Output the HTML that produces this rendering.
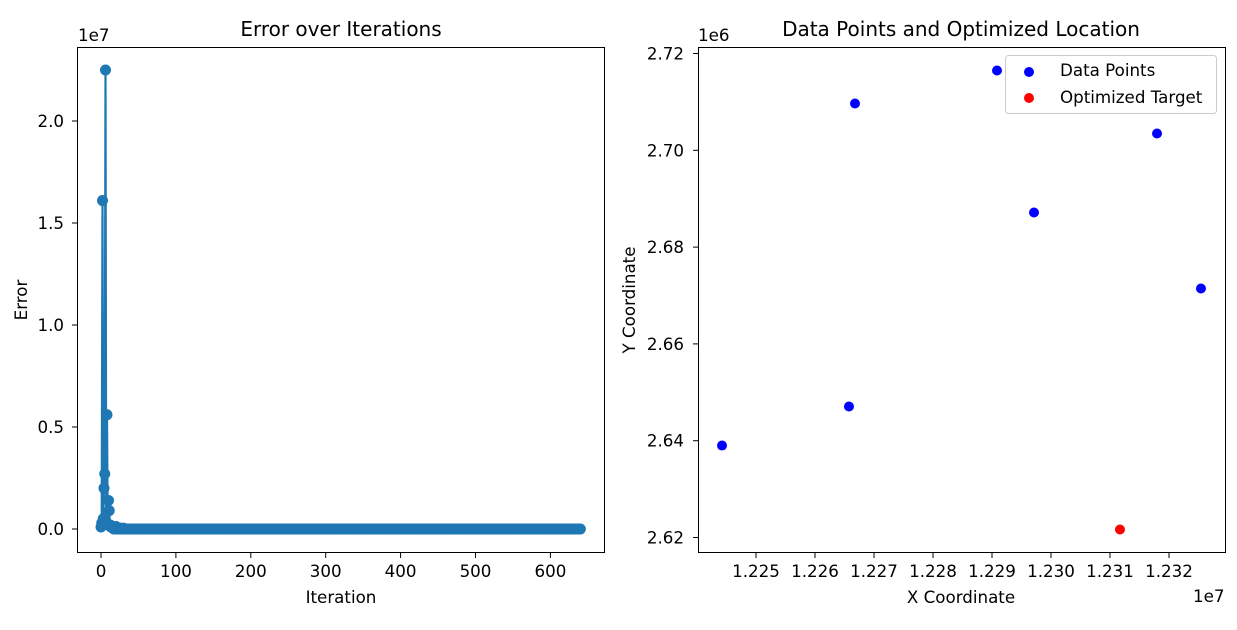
<!DOCTYPE html>
<html><head><meta charset="utf-8"><style>
body{margin:0;background:#fff;}
svg text{font-family:"DejaVu Sans","Liberation Sans",sans-serif;fill:#000;}
</style></head><body>
<svg id="chart" width="1237" height="625" viewBox="0 0 1237 625" xmlns="http://www.w3.org/2000/svg">
<rect width="1237" height="625" fill="#fff"/>
<g id="left"></g><g id="right"></g>
</svg>
<script>
// Left chart data (units of 1e7)
const errIterStart = [0,1,2,3,4,5,6,7,8,9,10,11,12,13,14,15,16,18,20,25,30];
const errValsStart = [0.01,0.03,1.61,0.05,0.2,0.27,2.25,0.03,0.56,0.02,0.14,0.09,0.02,0.01,0.015,0.01,0.008,0.006,0.012,0.005,0.004];
const errLastIter = 640;
const leftXTicks = [0,100,200,300,400,500,600];
const leftYTicks = [0,0.5,1.0,1.5,2.0];
const leftYLabels = ["0.0","0.5","1.0","1.5","2.0"];
// Right chart data
const ptsX = [12244240,12265760,12266780,12290850,12297120,12317970,12325420];
const ptsY = [2639000,2647070,2709670,2716490,2687150,2703470,2671450];
const targetX = [12311690];
const targetY = [2621650];
const rightXTicks = [12250000,12260000,12270000,12280000,12290000,12300000,12310000,12320000];
const rightXLabels = ["1.225","1.226","1.227","1.228","1.229","1.230","1.231","1.232"];
const rightYTicks = [2620000,2640000,2660000,2680000,2700000,2720000];
const rightYLabels = ["2.62","2.64","2.66","2.68","2.70","2.72"];

const NS="http://www.w3.org/2000/svg";
function mk(parent,tag,attrs,text){const e=document.createElementNS(NS,tag);for(const k in attrs)e.setAttribute(k,attrs[k]);if(text!==undefined)e.textContent=text;parent.appendChild(e);return e;}
const FS=16.7;

// LEFT
const L=document.getElementById('left');
const lx=v=>101+v*0.749, ly=v=>529-v*204;
let errIters=[],errVals=[];
for(let i=0;i<=errLastIter;i++){const k=errIterStart.indexOf(i);errIters.push(i);errVals.push(k>=0?errValsStart[k]:0.0);}
let d=errIters.map((v,i)=>(i?'L':'M')+lx(v).toFixed(1)+' '+ly(errVals[i]).toFixed(1)).join(' ');
let line=mk(L,'path',{d:d,fill:'none',stroke:'#1f77b4','stroke-width':2.2});


errIters.forEach((v,i)=>{const c=mk(L,'circle',{cx:lx(v),cy:ly(errVals[i]),r:5.5,fill:'#1f77b4'});

});
let lf=mk(L,'rect',{x:77.5,y:47.5,width:527,height:505,fill:'none',stroke:'#000','stroke-width':1});


leftXTicks.forEach(t=>{mk(L,'line',{x1:lx(t),x2:lx(t),y1:552.5,y2:558,stroke:'#000'});
const tx=mk(L,'text',{x:lx(t),y:577,'font-size':FS,'text-anchor':'middle'},String(t));

});
leftYTicks.forEach((t,i)=>{mk(L,'line',{x1:72,x2:77.5,y1:ly(t),y2:ly(t),stroke:'#000'});
const tx=mk(L,'text',{x:64,y:ly(t)+6,'font-size':FS,'text-anchor':'end'},leftYLabels[i]);

});
let e1=mk(L,'text',{x:78,y:41,'font-size':FS},'1e7');

let t1=mk(L,'text',{x:341,y:36,'font-size':20,'text-anchor':'middle'},'Error over Iterations');

let xl=mk(L,'text',{x:341,y:603,'font-size':FS,'text-anchor':'middle'},'Iteration');

let yl=mk(L,'text',{x:27,y:300,'font-size':FS,'text-anchor':'middle',transform:'rotate(-90 27 300)'},'Error');


// RIGHT
const R=document.getElementById('right');
const rx=v=>756+(v-12250000)/10000*59.0, ry=v=>537.5-(v-2620000)/10000*48.4;
ptsX.forEach((v,i)=>{const c=mk(R,'circle',{cx:rx(v),cy:ry(ptsY[i]),r:5,fill:'#0000ff'});

});
targetX.forEach((v,i)=>{const c=mk(R,'circle',{cx:rx(v),cy:ry(targetY[i]),r:5,fill:'#ff0000'});

});
let rf=mk(R,'rect',{x:698.5,y:47.5,width:527,height:505,fill:'none',stroke:'#000','stroke-width':1});

rightXTicks.forEach((t,i)=>{mk(R,'line',{x1:rx(t),x2:rx(t),y1:552.5,y2:558,stroke:'#000'});
const tx=mk(R,'text',{x:rx(t),y:577,'font-size':FS,'text-anchor':'middle'},rightXLabels[i]);
});
rightYTicks.forEach((t,i)=>{mk(R,'line',{x1:693,x2:698.5,y1:ry(t),y2:ry(t),stroke:'#000'});
const tx=mk(R,'text',{x:684,y:ry(t)+6,'font-size':FS,'text-anchor':'end'},rightYLabels[i]);
});
let e2=mk(R,'text',{x:698,y:41,'font-size':FS},'1e6');

let e3=mk(R,'text',{x:1193,y:602,'font-size':FS},'1e7');

let t2=mk(R,'text',{x:961,y:36,'font-size':20,'text-anchor':'middle'},'Data Points and Optimized Location');

let xl2=mk(R,'text',{x:961,y:603,'font-size':FS,'text-anchor':'middle'},'X Coordinate');

let yl2=mk(R,'text',{x:635,y:300,'font-size':FS,'text-anchor':'middle',transform:'rotate(-90 635 300)'},'Y Coordinate');

// legend
let lg=mk(R,'g',{});

mk(lg,'rect',{x:1005.5,y:55.5,width:211,height:58,rx:3,fill:'#fff',stroke:'#ccc'});
mk(lg,'circle',{cx:1029,cy:72,r:5,fill:'#0000ff'});
let le1=mk(lg,'text',{x:1060,y:76,'font-size':FS},'Data Points');

mk(lg,'circle',{cx:1029,cy:98,r:5,fill:'#ff0000'});
let le2=mk(lg,'text',{x:1060,y:103,'font-size':FS},'Optimized Target');

</script>
</body></html>
